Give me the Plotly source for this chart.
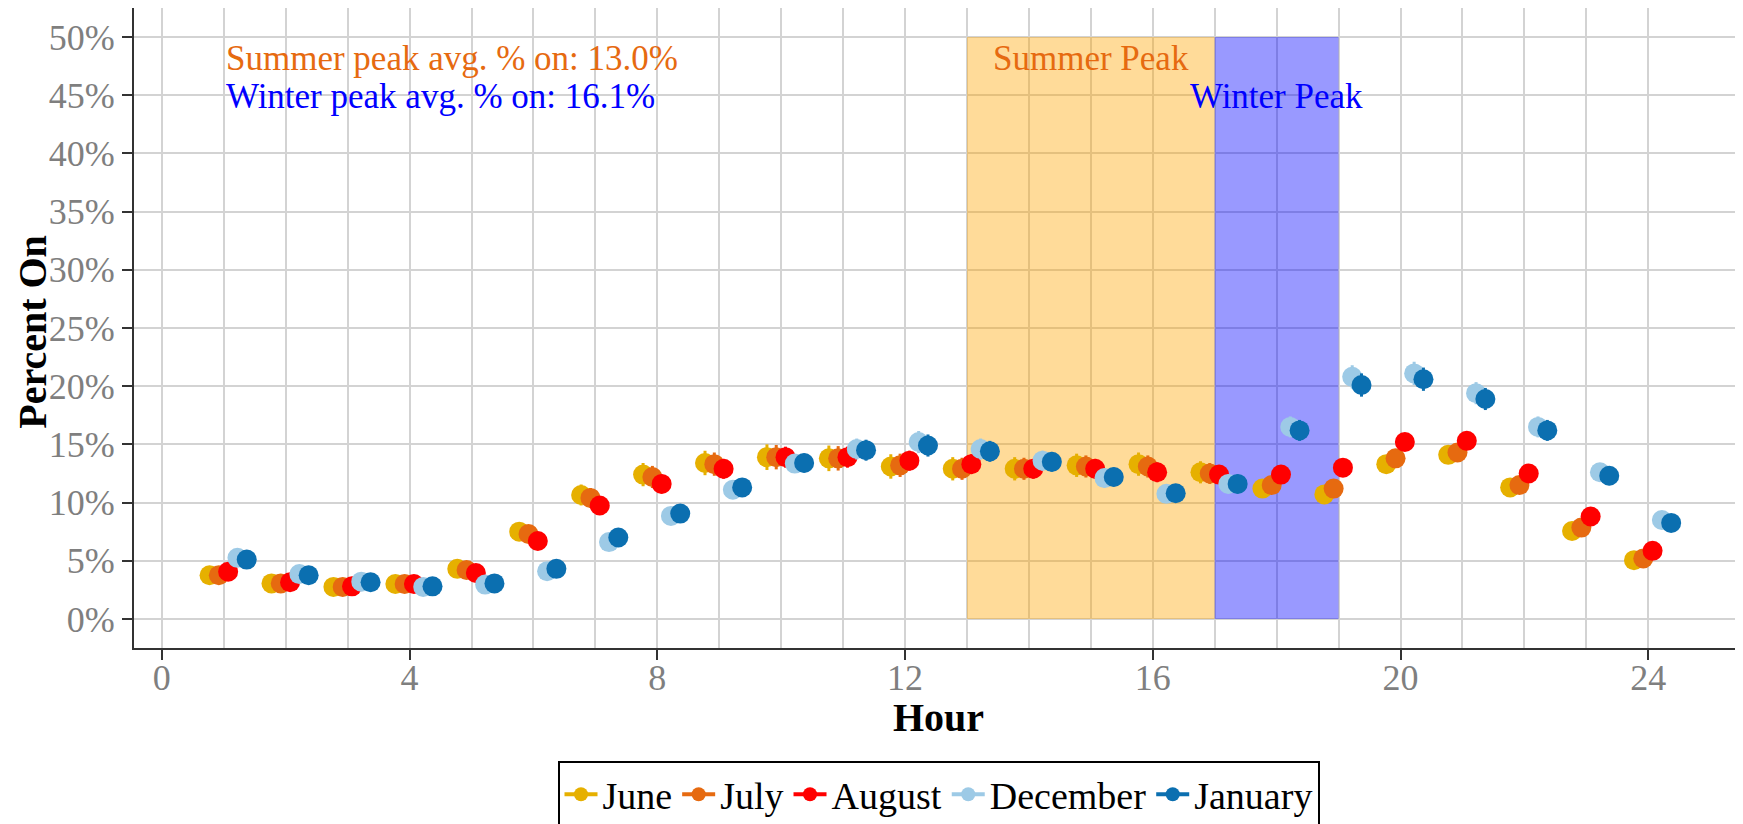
import plotly.graph_objects as go

hours = list(range(1, 25))
months = ["June", "July", "August", "December", "January"]
colors = ["#E6B000", "#E66A10", "#FF0000", "#9DCAE6", "#0B6FB0"]

june = [3.75, 3.05, 2.75, 3.0, 4.3, 7.5, 10.65, 12.4, 13.4, 13.9, 13.8, 13.1, 12.9, 12.9, 13.2, 13.3, 12.6, 11.2, 10.7, 13.3, 14.1, 11.3, 7.55, 5.05]
july = [3.75, 3.05, 2.75, 3.0, 4.2, 7.3, 10.4, 12.2, 13.3, 13.9, 13.8, 13.2, 12.9, 12.9, 13.1, 13.1, 12.5, 11.5, 11.2, 13.8, 14.3, 11.5, 7.85, 5.2]
august = [4.05, 3.15, 2.8, 3.0, 3.95, 6.7, 9.75, 11.6, 12.9, 13.9, 13.9, 13.6, 13.3, 12.9, 12.9, 12.6, 12.4, 12.4, 13.0, 15.2, 15.3, 12.5, 8.8, 5.85]
december = [5.25, 3.85, 3.2, 2.75, 2.95, 4.1, 6.6, 8.85, 11.1, 13.35, 14.6, 15.2, 14.6, 13.6, 12.1, 10.75, 11.6, 16.5, 20.8, 21.1, 19.4, 16.5, 12.6, 8.5]
january = [5.1, 3.75, 3.15, 2.8, 3.05, 4.3, 7.0, 9.05, 11.3, 13.4, 14.5, 14.9, 14.4, 13.5, 12.2, 10.8, 11.6, 16.2, 20.1, 20.6, 18.9, 16.2, 12.3, 8.25]

june_err = [0.3, 0.3, 0.3, 0.3, 0.4, 0.6, 0.9, 1.0, 1.05, 1.1, 1.1, 1.05, 1.0, 1.0, 1.0, 1.0, 0.95, 0.8, 0.7, 0.7, 0.7, 0.6, 0.5, 0.4]
july_err = [0.3, 0.3, 0.3, 0.3, 0.4, 0.6, 0.85, 0.95, 1.0, 1.05, 1.05, 1.0, 0.95, 0.95, 0.95, 0.95, 0.9, 0.75, 0.7, 0.7, 0.7, 0.6, 0.5, 0.4]
august_err = [0.3, 0.3, 0.3, 0.3, 0.4, 0.5, 0.7, 0.8, 0.85, 0.9, 0.9, 0.85, 0.85, 0.85, 0.85, 0.85, 0.8, 0.7, 0.6, 0.6, 0.6, 0.5, 0.4, 0.35]
december_err = [0.4, 0.3, 0.3, 0.3, 0.3, 0.4, 0.5, 0.6, 0.7, 0.8, 0.9, 0.95, 0.9, 0.85, 0.8, 0.75, 0.8, 0.9, 1.0, 1.0, 0.95, 0.9, 0.8, 0.6]
january_err = [0.4, 0.3, 0.3, 0.3, 0.3, 0.4, 0.5, 0.6, 0.7, 0.8, 0.9, 0.95, 0.9, 0.85, 0.8, 0.75, 0.8, 0.9, 1.0, 1.0, 0.95, 0.9, 0.8, 0.6]

series = [june, july, august, december, january]
errors = [june_err, july_err, august_err, december_err, january_err]
dodge = [-0.23, -0.08, 0.07, 0.22, 0.37]

summer_peak = (13, 17)
winter_peak = (17, 19)
peak_top = 50
summer_avg = 13.0
winter_avg = 16.1

y_ticks = list(range(0, 55, 5))
x_ticks = list(range(0, 25, 4))
x_minor = list(range(0, 25))

FONT = "Liberation Serif, Times New Roman, serif"

fig = go.Figure()

for name, vals, err, col, dx in zip(months, series, errors, colors, dodge):
    fig.add_trace(go.Scatter(
        x=[h + dx for h in hours], y=vals, mode="markers", name=name,
        marker=dict(color=col, size=20, line=dict(width=0)),
        error_y=dict(type="data", array=err, visible=True, color=col, thickness=3, width=0),
        showlegend=False,
    ))

for name, col in zip(months, colors):
    fig.add_trace(go.Scatter(
        x=[None], y=[None], mode="lines+markers", name=name,
        marker=dict(color=col, size=14), line=dict(color=col, width=4),
        showlegend=True,
    ))

fig.add_shape(type="rect", xref="x", yref="y", x0=summer_peak[0], x1=summer_peak[1], y0=0, y1=peak_top,
              fillcolor="rgba(255,165,0,0.4)", line=dict(width=0), layer="between")
fig.add_shape(type="rect", xref="x", yref="y", x0=winter_peak[0], x1=winter_peak[1], y0=0, y1=peak_top,
              fillcolor="rgba(0,0,255,0.4)", line=dict(width=0), layer="between")

orange_txt = "#E66A10"
ann_size = 35
fig.add_annotation(x=1, y=48.2, xref="x", yref="y", text=f"Summer peak avg. % on: {summer_avg:.1f}%",
                   showarrow=False, xanchor="left", yanchor="middle", font=dict(family=FONT, size=ann_size, color=orange_txt))
fig.add_annotation(x=1, y=44.9, xref="x", yref="y", text=f"Winter peak avg. % on: {winter_avg:.1f}%",
                   showarrow=False, xanchor="left", yanchor="middle", font=dict(family=FONT, size=ann_size, color="#0000FF"))
fig.add_annotation(x=sum(summer_peak) / 2, y=48.2, xref="x", yref="y", text="Summer Peak",
                   showarrow=False, xanchor="center", yanchor="middle", font=dict(family=FONT, size=ann_size, color=orange_txt))
fig.add_annotation(x=sum(winter_peak) / 2, y=44.9, xref="x", yref="y", text="Winter Peak",
                   showarrow=False, xanchor="center", yanchor="middle", font=dict(family=FONT, size=ann_size, color="#0000FF"))

# axis titles
fig.add_annotation(x=-0.0628, y=0.494, xref="paper", yref="paper", text="<b>Percent On</b>", textangle=-90,
                   showarrow=False, xanchor="center", yanchor="middle", font=dict(family=FONT, size=40, color="black"))
fig.add_annotation(x=0.5, y=-0.108, xref="paper", yref="paper", text="<b>Hour</b>",
                   showarrow=False, xanchor="center", yanchor="middle", font=dict(family=FONT, size=40, color="black"))

fig.update_layout(
    width=1735, height=816,
    margin=dict(l=126, r=0, t=0, b=176, autoexpand=False),
    paper_bgcolor="white", plot_bgcolor="white",
    font=dict(family=FONT),
    legend=dict(orientation="h", x=0.5, xanchor="center", y=-0.1766, yanchor="top",
                bordercolor="black", borderwidth=2, bgcolor="white", itemwidth=33,
                font=dict(family=FONT, size=38, color="black")),
)

fig.update_xaxes(
    range=[-0.45, 25.53], tickmode="array", tickvals=x_ticks, ticktext=[str(v) for v in x_ticks],
    showgrid=True, gridcolor="#D3D3D3", gridwidth=2,
    minor=dict(tickmode="array", tickvals=x_minor, showgrid=True, gridcolor="#D3D3D3", gridwidth=2, ticks=""),
    ticks="outside", ticklen=10, tickwidth=2, tickcolor="#333333",
    showline=True, linecolor="#333333", linewidth=2, mirror=True, zeroline=False,
    tickfont=dict(family=FONT, size=36, color="#7F7F7F"), ticklabelstandoff=-13,
    automargin=False,
)
fig.update_yaxes(
    range=[-2.5, 52.5], tickmode="array", tickvals=y_ticks, ticktext=[f"{v}%" for v in y_ticks],
    showgrid=True, gridcolor="#D3D3D3", gridwidth=2,
    ticks="outside", ticklen=10, tickwidth=2, tickcolor="#333333",
    showline=True, linecolor="#333333", linewidth=2, mirror=True, zeroline=False,
    tickfont=dict(family=FONT, size=36, color="#7F7F7F"),
    automargin=False,
)

fig.write_html("out.html")
